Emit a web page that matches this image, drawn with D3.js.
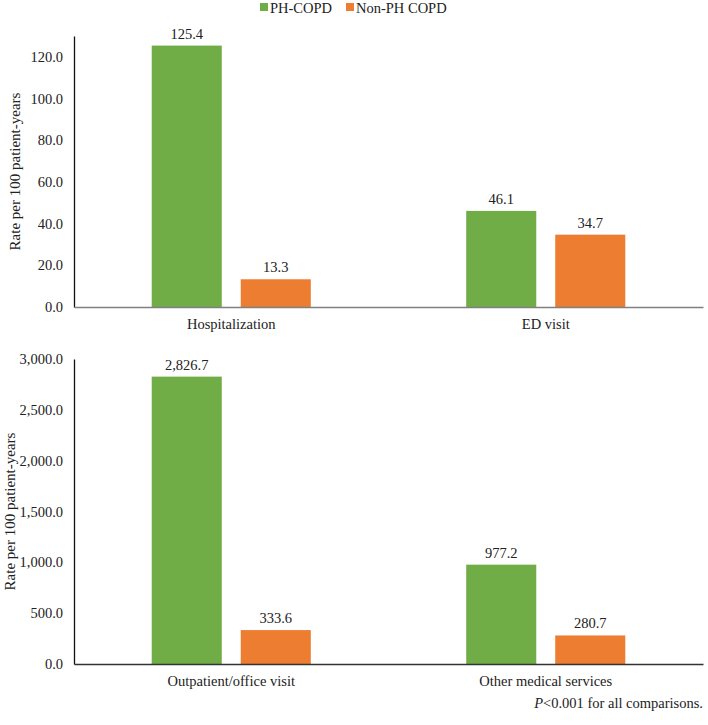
<!DOCTYPE html>
<html><head><meta charset="utf-8">
<script src="https://cdn.jsdelivr.net/npm/d3@7"></script>
<style>body{margin:0;background:#fff}svg{display:block;font-family:"Liberation Serif","Times New Roman",serif}</style>
</head><body><svg id="c" width="708" height="725"></svg>
<script>
const series = ["PH-COPD", "Non-PH COPD"];
const colors = ["#70AD47", "#ED7D31"];
const topCategories = ["Hospitalization", "ED visit"];
const topPH = [125.4, 46.1];
const topNonPH = [13.3, 34.7];
const topTicks = [0, 20, 40, 60, 80, 100, 120];
const bottomCategories = ["Outpatient/office visit", "Other medical services"];
const bottomPH = [2826.7, 977.2];
const bottomNonPH = [333.6, 280.7];
const bottomTicks = [0, 500, 1000, 1500, 2000, 2500, 3000];
const yTitle = "Rate per 100 patient-years";
const note = "for all comparisons.";

const svg = d3.select("#c");
const fmt = d3.format(",.1f");
const left = 74, right = 703;

function panel(cats, a, b, ticks, ymax, yTop, yBot, xColor, titleX) {
  const x = d3.scaleBand().domain(cats).range([left, right]);
  const x1 = d3.scaleBand().domain(series).range([0, x.bandwidth()]).paddingInner(0.213).paddingOuter(0.873);
  const y = d3.scaleLinear().domain([0, ymax]).range([yBot, yTop]);
  const g = svg.append("g");
  const data = cats.map((c, i) => ({c, vals: [a[i], b[i]]}));
  data.forEach(d => {
    d.vals.forEach((v, j) => {
      const bx = x(d.c) + x1(series[j]);
      g.append("rect").attr("x", bx).attr("y", y(v)).attr("width", x1.bandwidth())
        .attr("height", y(0) - y(v)).attr("fill", colors[j]);
      g.append("text").attr("x", bx + x1.bandwidth() / 2).attr("y", y(v) - 7)
        .attr("text-anchor", "middle").attr("font-size", 14.5).attr("fill", "#222").text(fmt(v));
    });
  });
  const ya = d3.axisLeft(y).tickValues(ticks).tickSize(0).tickPadding(11).tickFormat(fmt);
  const yg = g.append("g").attr("transform", `translate(${left},0)`).call(ya);
  yg.select(".domain").attr("stroke", "#111").attr("stroke-width", 1.3);
  yg.selectAll("text").attr("font-size", 14.5).attr("fill", "#222").attr("font-family", "Liberation Serif");
  const xa = d3.axisBottom(x).tickSize(0).tickPadding(12);
  const xg = g.append("g").attr("transform", `translate(0,${yBot})`).call(xa);
  xg.select(".domain").attr("stroke", xColor).attr("stroke-width", 1.5);
  xg.selectAll("text").attr("font-size", 14.5).attr("fill", "#222").attr("font-family", "Liberation Serif");
  g.append("text").attr("transform", `translate(${titleX},${(yTop + yBot) / 2}) rotate(-90)`)
    .attr("text-anchor", "middle").attr("dominant-baseline", "central")
    .attr("font-size", 15).attr("fill", "#222").text(yTitle);
}

panel(topCategories, topPH, topNonPH, topTicks, 130, 36, 307, "#808080", 15);
panel(bottomCategories, bottomPH, bottomNonPH, bottomTicks, 3000, 359, 664, "#333", 10);

const lg = svg.append("g").attr("font-size", 14.5).attr("fill", "#222");
const items = [{x: 260, t: series[0], c: colors[0]}, {x: 346, t: series[1], c: colors[1]}];
items.forEach(it => {
  lg.append("rect").attr("x", it.x).attr("y", 3).attr("width", 8).attr("height", 8).attr("fill", it.c);
  lg.append("text").attr("x", it.x + 10).attr("y", 13).text(it.t);
});

const nt = svg.append("text").attr("x", 703).attr("y", 708).attr("text-anchor", "end")
  .attr("font-size", 14.5).attr("fill", "#222");
nt.append("tspan").attr("font-style", "italic").text("P");
nt.append("tspan").text("<0.001 " + note);
</script></body></html>
